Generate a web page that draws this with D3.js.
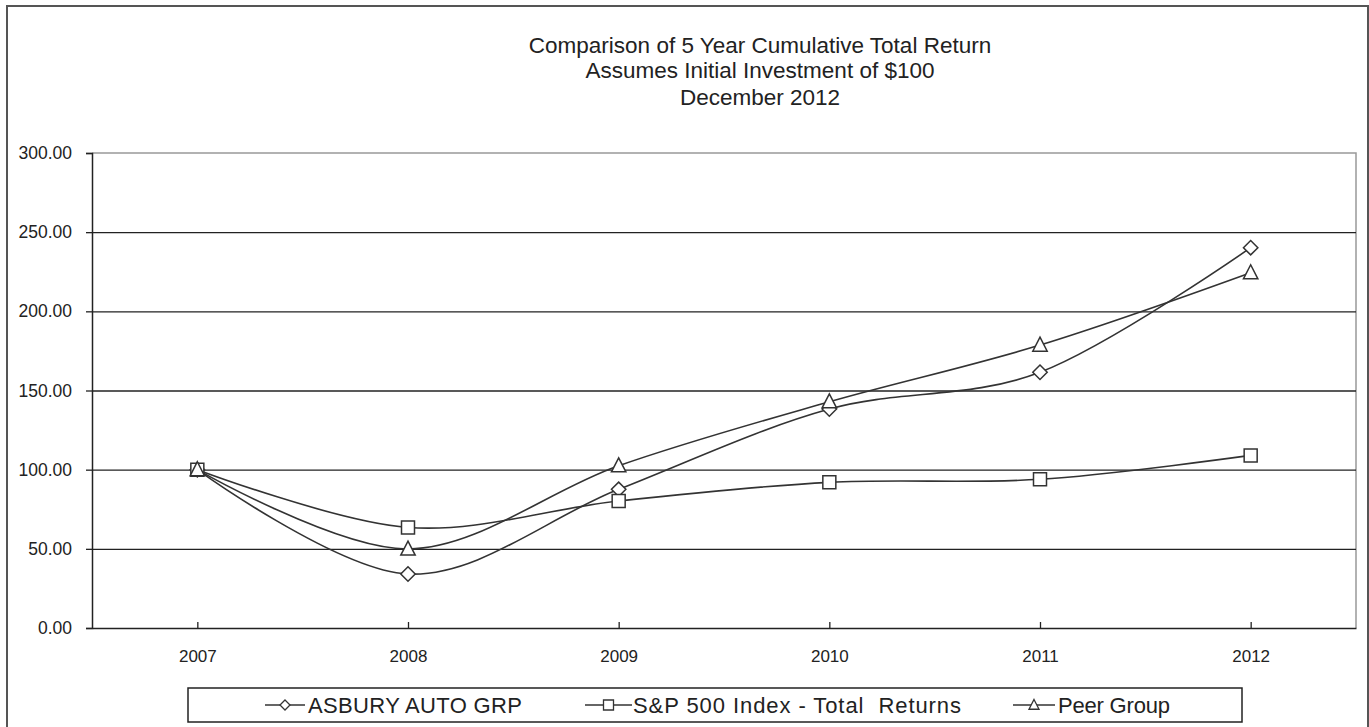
<!DOCTYPE html>
<html>
<head>
<meta charset="utf-8">
<script src="https://cdn.jsdelivr.net/npm/d3@7"></script>
<style>
  html, body { margin: 0; padding: 0; background: #fff; }
  svg { display: block; }
  text { font-family: "Liberation Sans", Arial, sans-serif; fill: #222; }
</style>
</head>
<body>
<svg id="chart" width="1369" height="727"></svg>
<script>
// ---- data ----
const years = ["2007", "2008", "2009", "2010", "2011", "2012"];
const asbury = [100, 34.1, 87.6, 138.3, 161.5, 240.2];
const sp500 = [100, 63.5, 80.2, 92.0, 93.9, 109.0];
const peer = [100, 49.9, 102.5, 142.9, 178.7, 224.4];
const yTicks = [0, 50, 100, 150, 200, 250, 300];
const titleLines = ["Comparison of 5 Year Cumulative Total Return", "Assumes Initial Investment of $100", "December 2012"];
const seriesNames = ["ASBURY AUTO GRP", "S&P 500 Index - Total  Returns", "Peer Group"];

const series = [
  { name: seriesNames[0], values: asbury, sym: "diamond" },
  { name: seriesNames[1], values: sp500, sym: "square" },
  { name: seriesNames[2], values: peer, sym: "triangle" }
];

const svg = d3.select("#chart");
const plot = { left: 92, right: 1356, top: 153, bottom: 628 };

// outer frame
svg.append("rect")
  .attr("x", 7).attr("y", 6).attr("width", 1361).attr("height", 730)
  .attr("fill", "none").attr("stroke", "#555").attr("stroke-width", 2);

// title
svg.append("g").selectAll("text").data(titleLines).join("text")
  .attr("x", 760)
  .attr("y", (d, i) => [53, 78, 105][i])
  .attr("text-anchor", "middle")
  .style("font-size", "22.5px")
  .text(d => d);

const x = d3.scalePoint().domain(years).range([plot.left, plot.right]).padding(0.5);
const y = d3.scaleLinear().domain([0, 300]).range([plot.bottom, plot.top]);

// plot border (top/right gray)
svg.append("path")
  .attr("d", `M${plot.left},${plot.top}H${plot.right}V${plot.bottom}`)
  .attr("fill", "none").attr("stroke", "#999").attr("stroke-width", 1.5);

// gridlines
svg.append("g")
  .attr("transform", `translate(${plot.left},0)`)
  .call(d3.axisLeft(y).tickValues(yTicks.filter(v => v > 0 && v < 300)).tickSize(-(plot.right - plot.left)).tickFormat(""))
  .call(g => g.select(".domain").remove())
  .call(g => g.selectAll(".tick line").attr("stroke", "#222").attr("stroke-width", 1.3));

// y axis
const yAxis = svg.append("g")
  .attr("transform", `translate(${plot.left},0)`)
  .call(d3.axisLeft(y).tickValues(yTicks).tickSize(6).tickPadding(14).tickFormat(d3.format(".2f")));
yAxis.select(".domain").attr("stroke", "#222").attr("stroke-width", 1.5);
yAxis.selectAll(".tick line").attr("stroke", "#222").attr("stroke-width", 1.3);
yAxis.selectAll(".tick text")
  .style("font-size", "17.5px").style("font-family", "'Liberation Sans', Arial, sans-serif")
  .attr("fill", "#2d2838");

// x axis
const xAxis = svg.append("g")
  .attr("transform", `translate(0,${plot.bottom})`)
  .call(d3.axisBottom(x).tickSizeInner(-6).tickSizeOuter(0).tickPadding(22));
xAxis.select(".domain").attr("stroke", "#222").attr("stroke-width", 1.5);
xAxis.selectAll(".tick line").attr("stroke", "#222").attr("stroke-width", 1.3);
xAxis.selectAll(".tick text")
  .style("font-size", "17px").style("font-family", "'Liberation Sans', Arial, sans-serif")
  .attr("fill", "#2d2838");

// markers
function symPath(sym, s) {
  if (sym === "diamond") return `M0,${-s}L${s},0L0,${s}L${-s},0Z`;
  if (sym === "square") return `M${-s},${-s}H${s}V${s}H${-s}Z`;
  return `M0,${-s * 1.1}L${s},${s * 0.85}H${-s}Z`;
}
const markerSize = { diamond: 7.2, square: 6.5, triangle: 7.2 };

const line = d3.line()
  .x((d, i) => x(years[i]))
  .y(d => y(d))
  .curve(d3.curveCardinal.tension(0));

series.forEach(s => {
  svg.append("path")
    .attr("d", line(s.values))
    .attr("fill", "none").attr("stroke", "#333").attr("stroke-width", 1.6);
});
series.forEach(s => {
  svg.append("g").selectAll("path").data(s.values).join("path")
    .attr("transform", (d, i) => `translate(${x(years[i])},${y(d)})`)
    .attr("d", symPath(s.sym, markerSize[s.sym]))
    .attr("fill", "#fff").attr("stroke", "#333").attr("stroke-width", 1.5);
});

// legend
const legend = svg.append("g");
legend.append("rect")
  .attr("x", 188).attr("y", 688).attr("width", 1054).attr("height", 34)
  .attr("fill", "#fff").attr("stroke", "#222").attr("stroke-width", 1.5);
const legendPos = [
  { x0: 265, x1: 305, tx: 308, len: 214 },
  { x0: 585, x1: 632, tx: 633, len: 328 },
  { x0: 1013, x1: 1055, tx: 1058, len: 112 }
];
series.forEach((s, i) => {
  const p = legendPos[i];
  const cy = 705;
  legend.append("line").attr("x1", p.x0).attr("x2", p.x1).attr("y1", cy).attr("y2", cy)
    .attr("stroke", "#333").attr("stroke-width", 1.5);
  legend.append("path")
    .attr("transform", `translate(${(p.x0 + p.x1) / 2},${cy})`)
    .attr("d", symPath(s.sym, 5))
    .attr("fill", "#fff").attr("stroke", "#333").attr("stroke-width", 1.3);
  legend.append("text")
    .attr("x", p.tx).attr("y", 713)
    .attr("textLength", p.len).attr("lengthAdjust", "spacing")
    .style("font-size", "22px").style("white-space", "pre")
    .text(s.name);
});
</script>
</body>
</html>
